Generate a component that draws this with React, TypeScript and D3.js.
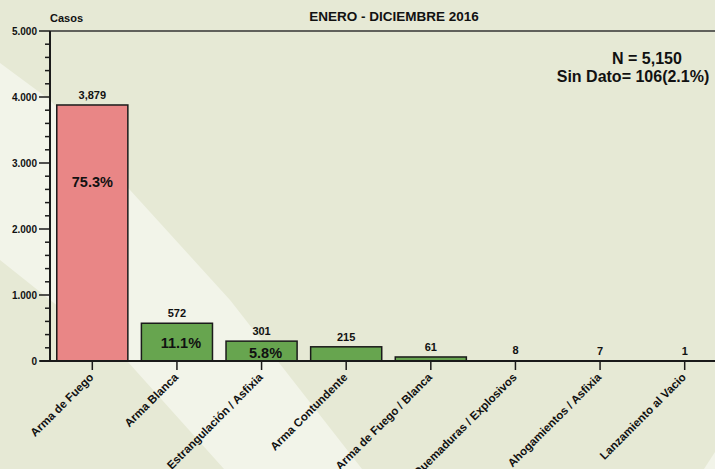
import React from "react";
import * as d3 from "d3";

const categories = [
  "Arma de Fuego",
  "Arma Blanca",
  "Estrangulación / Asfixia",
  "Arma Contundente",
  "Arma de Fuego / Blanca",
  "Quemaduras / Explosivos",
  "Ahogamientos / Asfixia",
  "Lanzamiento al Vacio",
];
const values = [3879, 572, 301, 215, 61, 8, 7, 1];
const valueLabels = ["3,879", "572", "301", "215", "61", "8", "7", "1"];
const percentLabels = ["75.3%", "11.1%", "5.8%"];
const percentAt = [2710, 270, 120];
const yTickValues = [0, 1000, 2000, 3000, 4000, 5000];
const yTickLabels = ["0", "1.000", "2.000", "3.000", "4.000", "5.000"];
const title = "ENERO - DICIEMBRE 2016";
const yTitle = "Casos";
const noteLines = ["N = 5,150", "Sin Dato= 106(2.1%)"];

const W = 715;
const H = 469;
const FONT = "'Liberation Sans', Arial, sans-serif";

export default function App() {
  const x = d3.scaleBand<string>().domain(categories).range([50, 727]).paddingInner(0.16).paddingOuter(0.08);
  const y = d3.scaleLinear().domain([0, 5000]).range([361, 31]);
  const minor = d3.range(0, 5001, 200).filter((v) => v % 1000 !== 0);
  const bg = "#e6e9d5";
  const light = "#f2f4e9";
  const line = d3.line();
  const stripe = line([
    [0, 63], [50, 100], [130, 190], [230, 300], [362, 469], [224, 469], [128, 362], [0, 260],
  ]) + "Z";
  const corner = line([[704, 469], [715, 452], [715, 469]]) + "Z";

  return (
    <svg width={W} height={H} style={{ position: "absolute", left: 0, top: 0, display: "block" }} fontFamily={FONT}>
      <rect x={0} y={0} width={W} height={H} fill={bg} />
      <path d={stripe} fill={light} />
      <path d={corner} fill={light} />

      {/* top border */}
      <line x1={50} x2={W} y1={31} y2={31} stroke="#333" strokeWidth={1.5} />

      {/* bars */}
      {categories.map((c, i) => (
        <rect
          key={c}
          x={x(c)!}
          y={y(values[i])}
          width={x.bandwidth()}
          height={y(0) - y(values[i])}
          fill={i === 0 ? "#e98686" : "#67a54f"}
          stroke="#1a1a1a"
          strokeWidth={values[i] < 20 ? 0 : 1.5}
        />
      ))}

      {/* value labels */}
      {categories.map((c, i) => (
        <text
          key={c}
          x={x(c)! + x.bandwidth() / 2}
          y={y(values[i]) - 6}
          textAnchor="middle"
          fontSize={11}
          fontWeight="bold"
          fill="#111"
        >
          {valueLabels[i]}
        </text>
      ))}

      {/* percent labels */}
      {percentLabels.map((p, i) => (
        <text
          key={p}
          x={x(categories[i])! + x.bandwidth() / 2 + (i === 0 ? 0 : 4)}
          y={y(percentAt[i])}
          dy="0.35em"
          textAnchor="middle"
          fontSize={14.5}
          fontWeight="bold"
          fill="#111"
        >
          {p}
        </text>
      ))}

      {/* y axis */}
      <line x1={50} x2={50} y1={31} y2={362} stroke="#1a1a1a" strokeWidth={2} />
      {minor.map((v) => (
        <line key={v} x1={45} x2={50} y1={y(v)} y2={y(v)} stroke="#1a1a1a" strokeWidth={1.5} />
      ))}
      {yTickValues.map((v, i) => (
        <g key={v}>
          <line x1={39} x2={50} y1={y(v)} y2={y(v)} stroke="#1a1a1a" strokeWidth={1.5} />
          <text x={37} y={y(v)} dy="0.35em" textAnchor="end" fontSize={10} fontWeight="bold" fill="#111">
            {yTickLabels[i]}
          </text>
        </g>
      ))}

      {/* x axis */}
      <line x1={40} x2={W} y1={361} y2={361} stroke="#1a1a1a" strokeWidth={2} />
      {categories.map((c) => {
        const cx = x(c)! + x.bandwidth() / 2;
        return (
          <g key={c}>
            <line x1={cx} x2={cx} y1={361} y2={370} stroke="#1a1a1a" strokeWidth={1.5} />
            <text
              transform={`translate(${cx + 2},${378}) rotate(-45)`}
              textAnchor="end"
              fontSize={11.5}
              fontWeight="bold"
              fill="#111"
            >
              {c}
            </text>
          </g>
        );
      })}

      {/* titles */}
      <text x={394} y={21} textAnchor="middle" fontSize={13.5} fontWeight="bold" fill="#111">
        {title}
      </text>
      <text x={50} y={22} fontSize={11} fontWeight="bold" fill="#111">
        {yTitle}
      </text>
      <text x={647} y={64} textAnchor="middle" fontSize={16} fontWeight="bold" fill="#111">
        {noteLines[0]}
      </text>
      <text x={633} y={82} textAnchor="middle" fontSize={16} fontWeight="bold" fill="#111">
        {noteLines[1]}
      </text>
    </svg>
  );
}
